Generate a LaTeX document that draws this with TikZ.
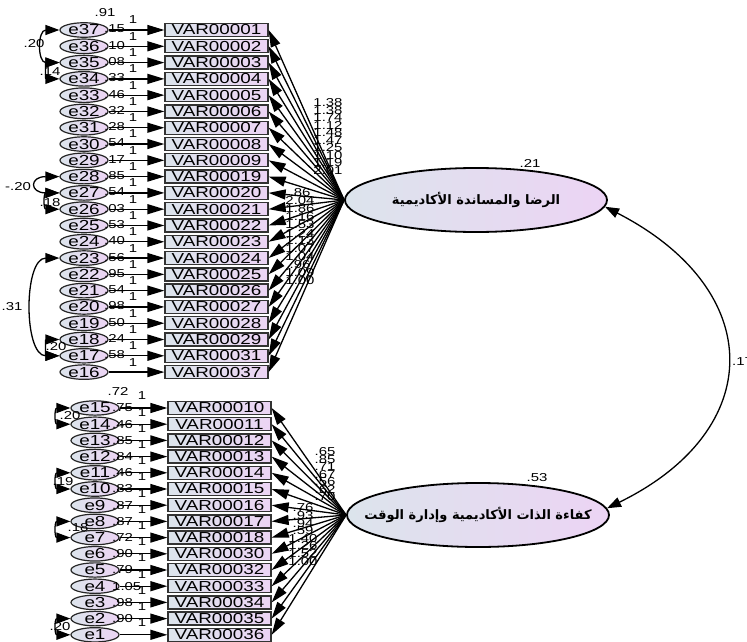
\documentclass[tikz,border=0pt]{standalone}
\usepackage{fontspec}
\usepackage{graphicx}
\setmainfont{Liberation Sans}
\newfontfamily\arabicbold[Script=Arabic]{DejaVu Sans Bold}
\TeXXeTstate=1
\usetikzlibrary{shapes.geometric,arrows.meta}
\definecolor{fillL}{RGB}{220,228,236}
\definecolor{fillR}{RGB}{236,212,244}
\newcommand\sx[1]{\scalebox{1.3}[1]{#1}}
\tikzset{
 obsbox/.style={rectangle, draw=black!80, line width=1.3pt, minimum width=103pt, minimum height=13pt, inner sep=0pt, left color=fillL, right color=fillR, font=\fontsize{14.5}{14}\selectfont},
 errell/.style={ellipse, draw=black!85, line width=1.2pt, minimum width=48pt, minimum height=13pt, inner sep=0pt, left color=fillL, right color=fillR, font=\fontsize{14.5}{14}\selectfont},
 latell/.style={ellipse, draw=black, line width=1.8pt, minimum width=262pt, minimum height=64pt, inner sep=0pt, left color=fillL, right color=fillR},
 lattext/.style={inner sep=0pt, font={\arabicbold\fontsize{13}{13}\selectfont}},
 patharr/.style={-{Triangle[length=17pt,width=10pt]}, line width=1.3pt},
 cov/.style={{Triangle[length=14pt,width=10pt]}-{Triangle[length=14pt,width=10pt]}, line width=1.3pt},
 numlbl/.style={font=\fontsize{11.5}{11}\selectfont, inner sep=0pt},
}
\begin{document}
\begin{tikzpicture}[x=1pt,y=-1pt]
\useasboundingbox (0,0) rectangle (747,642);
% latent variables
\node[latell] (lat1) at (476,200) {};
\node[latell] (lat2) at (478,515) {};
\node[lattext] (lat1t) at (lat1.center) {\beginR الرضا والمساندة الأكاديمية\endR};
\node[lattext] (lat2t) at (lat2.center) {\beginR كفاءة الذات الأكاديمية وإدارة الوقت\endR};
\node[numlbl] (v21) at (530,163) {\sx{.21}};
\node[numlbl] (v53) at (537,478) {\sx{.53}};
% top group
\foreach \i/\v/\e/\r in {0/01/37/.15,1/02/36/.10,2/03/35/.08,3/04/34/.33,4/05/33/.46,5/06/32/.32,6/07/31/.28,7/08/30/.54,8/09/29/.17,9/19/28/.85,10/20/27/.54,11/21/26/.03,12/22/25/.53,13/23/24/.40,14/24/23/.56,15/25/22/.95,16/26/21/.54,17/27/20/.98,18/28/19/.50,19/29/18/.24,20/31/17/.58,21/37/16/}{
  \pgfmathsetmacro\yy{30+16.29*\i}
  \node[obsbox] (v\v) at (216.5,\yy) {\sx{VAR000\v}};
  \node[errell] (e\e) at (84,\yy) {\sx{e\e}};
}
\foreach \v/\e in {01/37,02/36,03/35,04/34,05/33,06/32,07/31,08/30,09/29,19/28,20/27,21/26,22/25,23/24,24/23,25/22,26/21,27/20,28/19,29/18,31/17,37/16}{
  \draw[patharr] (e\e) -- (v\v);
  \draw[patharr] (lat1.west) -- (v\v.east);
}
\foreach \i/\r in {0/.15,1/.10,2/.08,3/.33,4/.46,5/.32,6/.28,7/.54,8/.17,9/.85,10/.54,11/.03,12/.53,13/.40,14/.56,15/.95,16/.54,17/.98,18/.50,19/.24,20/.58}{
  \pgfmathsetmacro\yy{30+16.29*\i}
  \node[numlbl, anchor=west] (vr\i) at (104,\yy-1) {\sx{\r}};
}
\foreach \i in {0,...,21}{
  \pgfmathsetmacro\yy{30+16.29*\i}
  \node[numlbl] (one\i) at (133,\yy-10) {\sx{1}};
}
\foreach \k/\l in {0/1.38,1/1.38,2/1.74,3/1.12,4/1.48,5/1.47,6/1.25,7/1.10,8/1.19,9/2.01}{
  \node[numlbl] (la\k) at (328,103+7.5*\k) {\sx{\l}};
}
\foreach \k/\l in {0/.86,1/2.04,2/1.86,3/1.16,4/1.53,5/1.24,6/1.13,7/1.07,8/1.04,9/.96,10/1.09,11/1.00}{
  \node[numlbl] (lb\k) at (300,193+8*\k) {\sx{\l}};
}
% top covariances
\draw[cov] (e37.west) .. controls +(-22,0) and +(-22,0) .. (e35.west);
\draw[cov] (e35.west) .. controls +(-14,0) and +(-14,0) .. (e34.west);
\draw[cov] (e28.west) .. controls +(-30,0) and +(-30,0) .. (e27.west);
\draw[cov] (e27.west) .. controls +(-16,0) and +(-16,0) .. (e26.west);
\draw[cov] (e23.west) .. controls +(-36,0) and +(-36,0) .. (e17.west);
\draw[cov] (e18.west) .. controls +(-14,0) and +(-14,0) .. (e17.west);
\node[numlbl] (c1) at (34,44) {\sx{.20}};
\node[numlbl] (c2) at (50,72) {\sx{.14}};
\node[numlbl] (c3) at (18,187) {\sx{-.20}};
\node[numlbl] (c4) at (50,203) {\sx{.18}};
\node[numlbl] (c5) at (12,307) {\sx{.31}};
\node[numlbl] (c6) at (56,347) {\sx{.20}};
\node[numlbl] (t91) at (105,13) {\sx{.91}};
% bottom group
\foreach \i/\v/\e in {0/10/15,1/11/14,2/12/13,3/13/12,4/14/11,5/15/10,6/16/9,7/17/8,8/18/7,9/30/6,10/32/5,11/33/4,12/34/3,13/35/2,14/36/1}{
  \pgfmathsetmacro\yy{408+16.2*\i}
  \node[obsbox] (v\v) at (219.5,\yy) {\sx{VAR000\v}};
  \node[errell] (e\e) at (95,\yy) {\sx{e\e}};
}
\foreach \v/\e in {10/15,11/14,12/13,13/12,14/11,15/10,16/9,17/8,18/7,30/6,32/5,33/4,34/3,35/2,36/1}{
  \draw[patharr] (e\e) -- (v\v);
  \draw[patharr] (lat2.west) -- (v\v.east);
}
\foreach \i/\r in {0/.75,1/.46,2/.85,3/.84,4/.46,5/.83,6/.87,7/.87,8/.72,9/.90,10/.79,11/1.05,12/.98,13/.90}{
  \pgfmathsetmacro\yy{408+16.2*\i}
  \node[numlbl, anchor=west] (wr\i) at (112,\yy) {\sx{\r}};
}
\foreach \i in {0,...,14}{
  \pgfmathsetmacro\yy{408+16.2*\i}
  \node[numlbl] (two\i) at (142,\yy-12) {\sx{1}};
}
\foreach \k/\l in {0/.65,1/.85,2/.71,3/.67,4/.56,5/.62,6/.70}{
  \node[numlbl] (lc\k) at (325,452+7.5*\k) {\sx{\l}};
}
\foreach \k/\l in {0/.76,1/.93,2/.94,3/.59,4/1.40,5/1.26,6/1.52,7/1.00}{
  \node[numlbl] (ld\k) at (303,508+7.6*\k) {\sx{\l}};
}
\draw[cov] (e15.west) .. controls +(-16,0) and +(-16,0) .. (e14.west);
\draw[cov] (e11.west) .. controls +(-16,0) and +(-16,0) .. (e10.west);
\draw[cov] (e8.west) .. controls +(-16,0) and +(-16,0) .. (e7.west);
\draw[cov] (e2.west) .. controls +(-16,0) and +(-16,0) .. (e1.west);
\node[numlbl] (d1) at (70,416) {\sx{.20}};
\node[numlbl] (d2) at (63,482) {\sx{.19}};
\node[numlbl] (d3) at (78,528) {\sx{.18}};
\node[numlbl] (d4) at (60,627) {\sx{.20}};
\node[numlbl] (t72) at (118,391) {\sx{.72}};
% latent covariance
\draw[cov] (lat1.-3) .. controls (767,290) and (767,430) .. (lat2.3);
\node[numlbl, anchor=west] (c17) at (732,362) {\sx{.17}};
\end{tikzpicture}
\end{document}
